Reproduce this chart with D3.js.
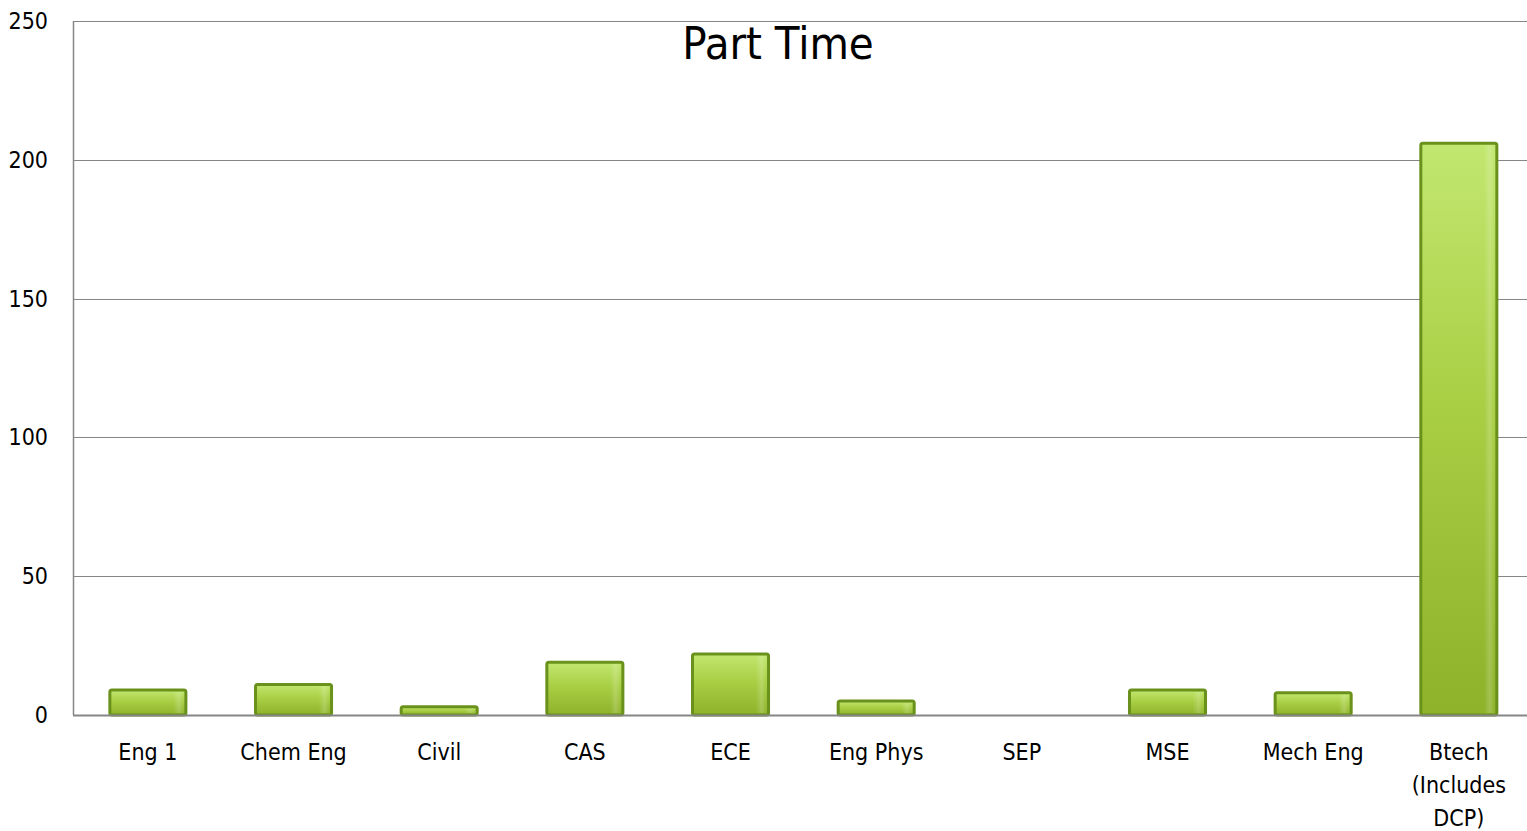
<!DOCTYPE html>
<html>
<head>
<meta charset="utf-8">
<script src="https://cdn.jsdelivr.net/npm/d3@7"></script>
<style>
	html, body { margin: 0; padding: 0; background: #fff; }
	svg text { font-family: 'DejaVu Sans Condensed', 'DejaVu Sans', sans-serif; font-stretch: condensed; fill: #000; }
</style>
</head>
<body>
<svg id="chart"></svg>
<script>
// DATA
const categories = ['Eng 1', 'Chem Eng', 'Civil', 'CAS', 'ECE', 'Eng Phys', 'SEP', 'MSE', 'Mech Eng', 'Btech (Includes DCP)']
const values = [9, 11, 3, 19, 22, 5, 0, 9, 8, 206]
const yTicks = [0, 50, 100, 150, 200, 250]
const title = 'Part Time'

// wrapped label lines for the last category
const labelLines = {
	'Btech (Includes DCP)': ['Btech', '(Includes', 'DCP)']
}

function draw () {
	const width = 1527
	const height = 831
	const margin = { top: 21, right: 0, bottom: 116, left: 73 }

	const svg = d3.select('svg#chart')
		.attr('width', width)
		.attr('height', height)

	const x = d3.scaleBand()
		.domain(categories)
		.range([margin.left, width - margin.right])
		.paddingInner(0.478)
		.paddingOuter(0.23)
		.align(0.55)

	const y = d3.scaleLinear()
		.domain([0, 250])
		.range([height - margin.bottom, margin.top])

	// GRADIENT
	const defs = svg.append('defs')
	const grad = defs.append('linearGradient')
		.attr('id', 'barfill')
		.attr('x1', 0).attr('y1', 0).attr('x2', 0).attr('y2', 1)
	grad.append('stop').attr('offset', '0%').attr('stop-color', '#c2e770')
	grad.append('stop').attr('offset', '45%').attr('stop-color', '#a9cf45')
	grad.append('stop').attr('offset', '100%').attr('stop-color', '#8eb22a')

	const shine = defs.append('linearGradient')
		.attr('id', 'barshine')
		.attr('x1', 0).attr('y1', 0).attr('x2', 1).attr('y2', 0)
	shine.append('stop').attr('offset', '0%').attr('stop-color', '#fff').attr('stop-opacity', 0)
	shine.append('stop').attr('offset', '85%').attr('stop-color', '#fff').attr('stop-opacity', 0)
	shine.append('stop').attr('offset', '93%').attr('stop-color', '#fff').attr('stop-opacity', 0.18)
	shine.append('stop').attr('offset', '100%').attr('stop-color', '#fff').attr('stop-opacity', 0)

	// GRIDLINES
	svg.append('g')
		.attr('class', 'grid')
		.selectAll('line')
		.data(yTicks.filter(d => d > 0))
		.join('line')
		.attr('x1', margin.left)
		.attr('x2', width - margin.right)
		.attr('y1', d => Math.round(y(d)) + 0.5)
		.attr('y2', d => Math.round(y(d)) + 0.5)
		.attr('stroke', '#868686')
		.attr('stroke-width', 1)

	// BARS
	const bars = svg.append('g').attr('class', 'bars')
	const data = categories.map((c, i) => ({ cat: c, value: values[i] }))
	bars.selectAll('rect.bar')
		.data(data.filter(d => d.value > 0))
		.join('rect')
		.attr('class', 'bar')
		.attr('x', d => x(d.cat))
		.attr('y', d => y(d.value))
		.attr('width', x.bandwidth())
		.attr('height', d => y(0) - y(d.value))
		.attr('rx', 2)
		.attr('fill', 'url(#barfill)')
		.attr('stroke', '#6a911b')
		.attr('stroke-width', 3)
	bars.selectAll('rect.shine')
		.data(data.filter(d => d.value > 0))
		.join('rect')
		.attr('class', 'shine')
		.attr('x', d => x(d.cat) + 2)
		.attr('y', d => y(d.value) + 2)
		.attr('width', x.bandwidth() - 4)
		.attr('height', d => Math.max(0, y(0) - y(d.value) - 4))
		.attr('fill', 'url(#barshine)')

	// AXIS LINES
	svg.append('line')
		.attr('x1', margin.left + 0.5).attr('x2', margin.left + 0.5)
		.attr('y1', margin.top).attr('y2', y(0))
		.attr('stroke', '#868686').attr('stroke-width', 1.5)
	svg.append('line')
		.attr('x1', margin.left).attr('x2', width - margin.right)
		.attr('y1', y(0) + 0.5).attr('y2', y(0) + 0.5)
		.attr('stroke', '#868686').attr('stroke-width', 2)

	// Y LABELS
	svg.append('g')
		.selectAll('text')
		.data(yTicks)
		.join('text')
		.attr('x', 48)
		.attr('y', d => y(d) + 8)
		.attr('text-anchor', 'end')
		.attr('font-size', 23)
		.text(d => d)

	// X LABELS
	const xl = svg.append('g')
		.selectAll('text')
		.data(categories)
		.join('text')
		.attr('text-anchor', 'middle')
		.attr('font-size', 23)
		.attr('x', d => x(d) + x.bandwidth() / 2)
		.attr('y', 760)
	xl.each(function (d) {
		const lines = labelLines[d] || [d]
		d3.select(this).selectAll('tspan')
			.data(lines)
			.join('tspan')
			.attr('x', x(d) + x.bandwidth() / 2)
			.attr('dy', (l, i) => i === 0 ? 0 : 33)
			.text(l => l)
	})

	// TITLE
	svg.append('text')
		.attr('x', 778)
		.attr('y', 59)
		.attr('text-anchor', 'middle')
		.attr('font-size', 45)
		.text(title)
}

if (document.readyState === 'loading') {
	document.addEventListener('DOMContentLoaded', draw)
} else {
	draw()
}
</script>
</body>
</html>
